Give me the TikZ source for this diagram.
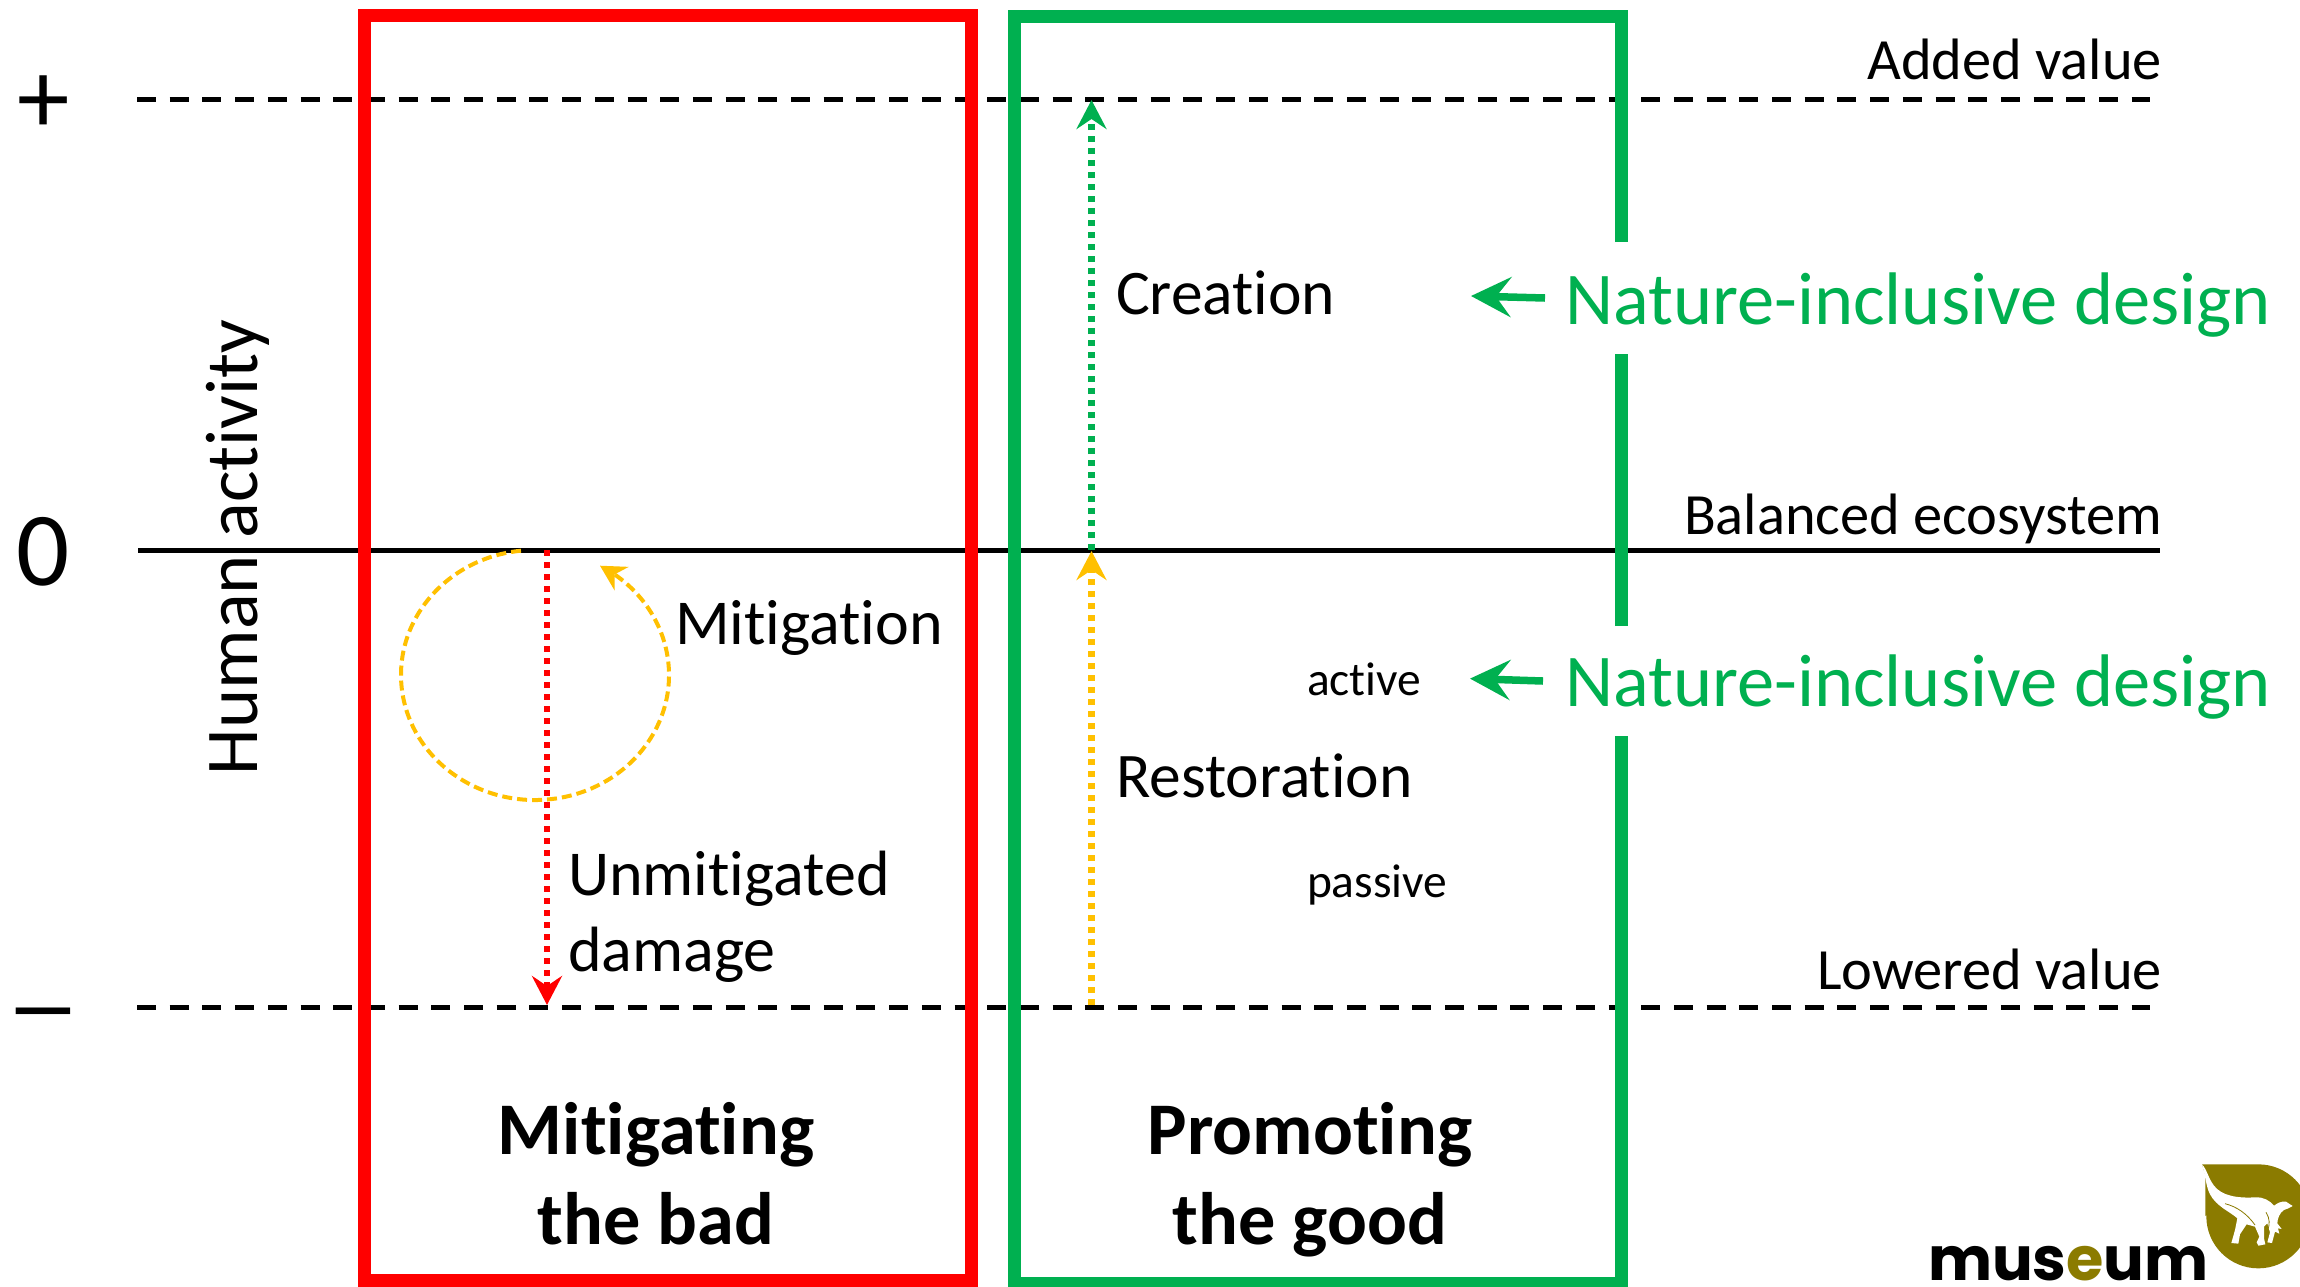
\documentclass[tikz,border=0pt]{standalone}
\usepackage{fontspec}
\setmainfont{Carlito}[Ligatures=NoCommon]
\newfontfamily\logofont{Poppins}
\usetikzlibrary{arrows.meta,bending}
\definecolor{gr}{HTML}{00B050}
\definecolor{ye}{HTML}{FFC000}
\definecolor{re}{HTML}{FF0000}
\definecolor{ol}{HTML}{8B7B00}
\newcommand{\fs}[1]{\fontsize{#1}{#1}\selectfont}
\tikzset{
  lbl/.style={inner sep=0pt,outer sep=0pt,anchor=base west},
  lblr/.style={inner sep=0pt,outer sep=0pt,anchor=base east},
  lblc/.style={inner sep=0pt,outer sep=0pt,anchor=base},
  levdash/.style={black,line width=5pt,dash pattern=on 19pt off 13.7pt},
  levsolid/.style={black,line width=5pt},
  box/.style={line width=13pt,line join=miter,line cap=butt},
  dotline/.style={line width=6.5pt,dash pattern=on 6pt off 6pt},
  tipa/.style={-{Stealth[length=29pt,width=30pt,inset=10pt]}},
  bigarrow/.style={gr,line width=7.5pt,-{Stealth[length=40pt,width=40pt,inset=15pt]}},
}
\begin{document}
\begin{tikzpicture}[x=1pt,y=-1pt]
\clip (0,0) rectangle (2300,1286);
\fill[white] (0,0) rectangle (2300,1286);
% level lines
\coordinate (topL) at (137,99.5); \coordinate (topR) at (2150,99.5);
\coordinate (midL) at (138,550); \coordinate (midR) at (2160,550);
\coordinate (lowL) at (137,1007.5); \coordinate (lowR) at (2150,1007.5);
\draw[levdash] (topL) -- (topR);
\draw[levsolid] (midL) -- (midR);
\draw[levdash] (lowL) -- (lowR);
% boxes
\coordinate (redA) at (364.5,15); \coordinate (redB) at (971,1280);
\draw[re,box] (redA) rectangle (redB);
\coordinate (g1) at (1621.5,242); \coordinate (g2) at (1621.5,16); \coordinate (g3) at (1014.5,16);
\coordinate (g4) at (1014.5,1283); \coordinate (g5) at (1621.5,1283); \coordinate (g6) at (1621.5,736);
\coordinate (g7) at (1621.5,626); \coordinate (g8) at (1621.5,354);
\draw[gr,box] (g1) -- (g2) -- (g3) -- (g4) -- (g5) -- (g6);
\draw[gr,box] (g7) -- (g8);
% dotted arrows
\coordinate (rs) at (547,550); \coordinate (re) at (547,1005);
\draw[re,dotline,tipa] (rs) -- (re);
\coordinate (ys) at (1091.5,1005); \coordinate (ye) at (1091.5,551);
\draw[ye,dotline,tipa] (ys) -- (ye);
\coordinate (cs) at (1091.5,550); \coordinate (ce) at (1091.5,100);
\draw[gr,dotline,tipa] (cs) -- (ce);
% mitigation loop
\coordinate (ellstart) at (521,550.7);
\draw[ye,line width=4pt,dash pattern=on 10pt off 5pt,-{Stealth[length=25pt,width=27pt,inset=8pt,flex]}]
  (ellstart) arc[start angle=96,end angle=421,x radius=134pt,y radius=125pt];
% green arrows
\coordinate (na1) at (1545,298); \coordinate (na1t) at (1471,296);
\coordinate (na2) at (1543,681); \coordinate (na2t) at (1470,678.6);
\draw[bigarrow] (na1) -- (na1t);
\draw[bigarrow] (na2) -- (na2t);
% axis
\node[lblc] (plus) at (43.5,133) {\fs{105}+};
\node[lblc] (zero) at (43,585) {\fs{105}0};
\node[lblc,xscale=1.45] (minus) at (43,1040) {\fs{105}–};
\node[lbl,rotate=90] (human) at (257,775) {\fs{74.5}Human activity};
% right labels
\node[lblr] (added) at (2162,79) {\fs{58.4}Added value};
\node[lblr] (bal) at (2162,534) {\fs{58.4}Balanced ecosystem};
\node[lblr] (lowered) at (2162,989) {\fs{58.4}Lowered value};
% inner labels
\node[lbl] (creation) at (1116,314) {\fs{63.5}Creation};
\node[lbl] (restoration) at (1116,797) {\fs{63.5}Restoration};
\node[lbl] (active) at (1307,695) {\fs{47.5}active};
\node[lbl] (passive) at (1307,897) {\fs{47.5}passive};
\node[lbl] (mitig) at (675,644) {\fs{64}Mitigation};
\node[lbl] (unm1) at (568,895) {\fs{64}Unmitigated};
\node[lbl] (unm2) at (568,971.5) {\fs{64}damage};
\node[lbl,text=gr] (ni1) at (1565,324) {\fs{74.5}Nature-inclusive design};
\node[lbl,text=gr] (ni2) at (1565,706) {\fs{74.5}Nature-inclusive design};
% titles
\node[lblc] (t1a) at (656,1154) {\fs{74.3}\bfseries Mitigating};
\node[lblc] (t1b) at (656,1244) {\fs{74.3}\bfseries the bad};
\node[lblc] (t2a) at (1310,1154) {\fs{74.3}\bfseries Promoting};
\node[lblc] (t2b) at (1310,1244) {\fs{74.3}\bfseries the good};
% logo
\node[lbl] (logo) at (1928,1280) {\logofont\bfseries\fs{60.5}mus\textcolor{ol}{e}um};
\begin{scope}[shift={(2190,1155)},x=0.3333pt,y=-0.3333pt]
\fill[ol] (36,28) -- (205,28) arc[start angle=90,end angle=-270,radius=52pt] -- (46,183) -- (46,60) -- cycle;
\fill[white] (36,28) .. controls (50,42) and (55,70) .. (72,92)
  .. controls (95,122) and (140,130) .. (195,127)
  .. controls (222,126) and (238,136) .. (252,152)
  .. controls (262,145) and (272,138) .. (288,140)
  -- (308,153) -- (295,160) -- (282,165)
  .. controls (270,172) and (262,190) .. (262,205)
  -- (275,222) -- (264,220) -- (268,236) -- (255,230) -- (246,264) -- (232,262) -- (240,232)
  -- (232,205) -- (222,215) -- (222,250) -- (226,268) -- (205,272) -- (200,262) -- (208,245)
  -- (195,215) -- (170,208) -- (150,238) -- (145,266) -- (124,264) -- (135,225) -- (142,190)
  .. controls (120,170) and (80,155) .. (60,118)
  .. controls (48,95) and (46,60) .. cycle;
\draw[ol,line width=0.8pt] (105,146) .. controls (140,155) and (170,175) .. (195,210);
\draw[ol,line width=0.8pt] (228,172) .. controls (240,190) and (240,210) .. (232,228);
\end{scope}
\end{tikzpicture}
\end{document}
